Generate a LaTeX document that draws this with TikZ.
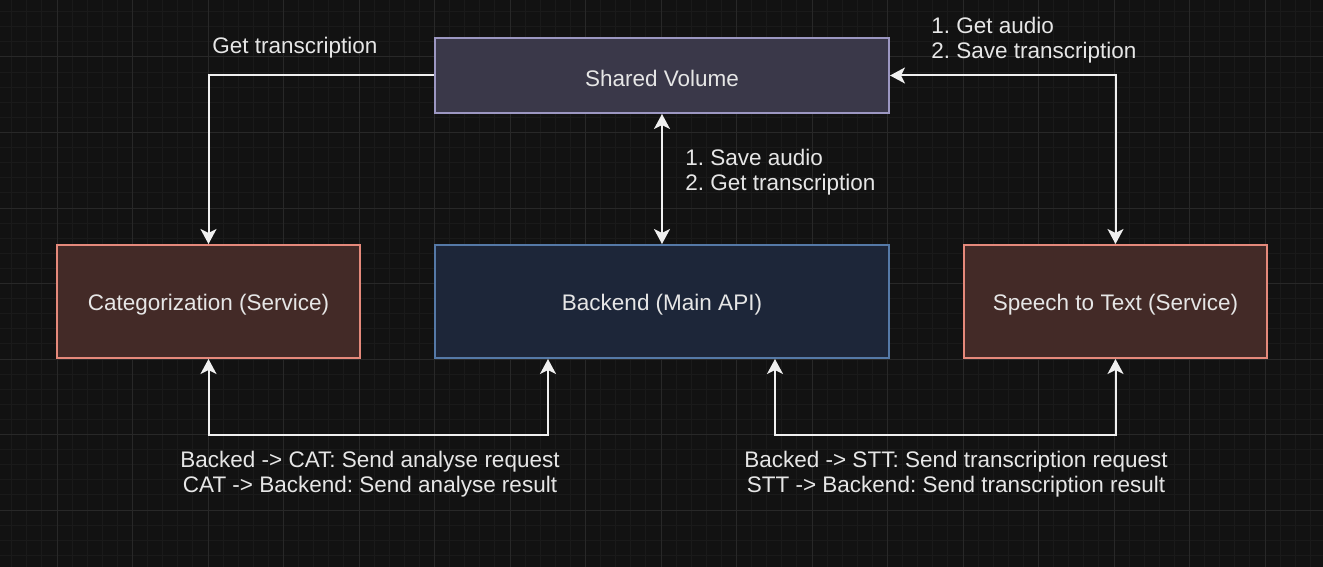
\documentclass[tikz,border=0pt]{standalone}
\usepackage{fontspec}
\setmainfont{Liberation Sans}
\usepackage{tikz}
\usetikzlibrary{arrows.meta}
\frenchspacing

\definecolor{bgcol}{HTML}{121212}
\definecolor{gridmin}{HTML}{1A1A1A}
\definecolor{gridmaj}{HTML}{282828}
\definecolor{txtcol}{HTML}{E6E6E6}
\definecolor{linkcol}{HTML}{F0F0F0}
\definecolor{volfill}{HTML}{3A3849}
\definecolor{voldraw}{HTML}{9C97C2}
\definecolor{svcfill}{HTML}{432A27}
\definecolor{svcdraw}{HTML}{E5897B}
\definecolor{apifill}{HTML}{1D2639}
\definecolor{apidraw}{HTML}{5579A7}

\newcommand{\lowtext}[1]{\raisebox{-1.5pt}[\height][\depth]{#1}}

\tikzset{
  box/.style={draw, line width=1pt, text=txtcol, inner sep=0pt,
    font=\fontsize{11.25}{12.5}\selectfont},
  volbox/.style={box, fill=volfill, draw=voldraw, minimum width=227pt, minimum height=37.5pt},
  svcbox/.style={box, fill=svcfill, draw=svcdraw, minimum width=151.5pt, minimum height=56.5pt},
  apibox/.style={box, fill=apifill, draw=apidraw, minimum width=227pt, minimum height=56.5pt},
  lbl/.style={text=txtcol, inner sep=0pt, font=\fontsize{11.25}{12.5}\selectfont},
  link/.style={draw=linkcol, line width=1pt, -{Stealth[length=7.5pt, width=8pt, inset=2pt]}},
  twoway/.style={draw=linkcol, line width=1pt, {Stealth[length=7.5pt, width=8pt, inset=2pt]}-{Stealth[length=7.5pt, width=8pt, inset=2pt]}}
}

\begin{document}
\begin{tikzpicture}[x=0.5pt, y=-0.5pt]
    \fill[bgcol] (0,0) rectangle (1323,567);
    \useasboundingbox (0,0) rectangle (1323,567);
    % grid
    \foreach \i in {0,...,88}
    {
      \draw[gridmin, line width=0.5pt] (-18.5+\i*15.1,0) -- (-18.5+\i*15.1,567);
    }
    \foreach \i in {0,...,38}
    {
      \draw[gridmin, line width=0.5pt] (0,-18.5+\i*15.1) -- (1323,-18.5+\i*15.1);
    }
    \foreach \i in {1,...,18}
    {
      \draw[gridmaj, line width=0.5pt] (-18.5+\i*75.5,0) -- (-18.5+\i*75.5,567);
    }
    \foreach \i in {1,...,7}
    {
      \draw[gridmaj, line width=0.5pt] (0,-18.5+\i*75.5) -- (1323,-18.5+\i*75.5);
    }

    % boxes
    \node[volbox] (vol) at (662,75.5) {\lowtext{Shared Volume}};
    \node[svcbox] (cat) at (208.5,301.5) {\lowtext{Categorization (Service)}};
    \node[apibox] (api) at (662,301.5) {\lowtext{Backend (Main API)}};
    \node[svcbox] (stt) at (1115.5,301.5) {\lowtext{Speech to Text (Service)}};

    % connectors
    \draw[link] (vol.west) -| (cat.north);
    \draw[twoway] (vol.east) -| (stt.north);
    \draw[twoway] (vol.south) -- (api.north);
    \draw[twoway] (cat.south) -- ++(0,76) -| ([xshift=-57pt]api.south);
    \draw[twoway] ([xshift=56.5pt]api.south) -- ++(0,76) -| (stt.south);

    % labels
    \node[lbl, anchor=west] (gettr) at (212,48) {Get transcription};
    \node[lbl, anchor=west, align=left] (sttvol) at (931,40) {1. Get audio\\2. Save transcription};
    \node[lbl, anchor=west, align=left] (apivol) at (685,172.5) {1. Save audio\\2. Get transcription};
    \node[lbl, align=center] (catapi) at (370,474.5) {Backed -> CAT: Send analyse request\\CAT -> Backend: Send analyse result};
    \node[lbl, align=center] (apistt) at (956,474.5) {Backed -> STT: Send transcription request\\STT -> Backend: Send transcription result};
\end{tikzpicture}
\end{document}
